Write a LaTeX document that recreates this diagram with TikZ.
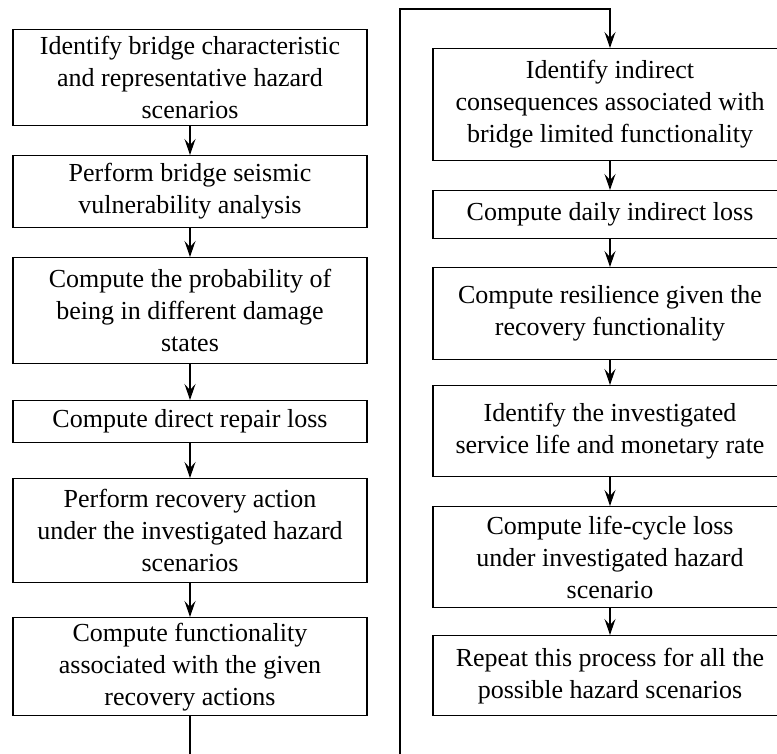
\documentclass[tikz,border=0pt]{standalone}
\usepackage{fontspec}
\setmainfont{Liberation Serif}
\usetikzlibrary{arrows.meta}
\begin{document}
\begin{tikzpicture}[x=1pt,y=-1pt,
  box/.style={draw, line width=1.3pt, minimum width=354pt, inner sep=0pt,
    align=center, anchor=north, font=\fontsize{26}{32}\selectfont},
  flow/.style={line width=1.3pt, -{Stealth[length=16pt,width=11pt,inset=6pt]}},
  link/.style={line width=1.3pt}]
\useasboundingbox (0,0) rectangle (777,754);
\clip (0,0) rectangle (777,754);
% left column
\node[box, minimum height=96pt] (l1) at (190,29) {Identify bridge characteristic\\and representative hazard\\scenarios};
\node[box, minimum height=72pt] (l2) at (190,155) {Perform bridge seismic\\vulnerability analysis};
\node[box, minimum height=106pt] (l3) at (190,257) {Compute the probability of\\being in different damage\\states};
\node[box, minimum height=42pt] (l4) at (190,400) {Compute direct repair loss};
\node[box, minimum height=104pt] (l5) at (190,478) {Perform recovery action\\under the investigated hazard\\scenarios};
\node[box, minimum height=98pt] (l6) at (190,617) {Compute functionality\\associated with the given\\recovery actions};
% right column
\node[box, minimum height=112pt] (r1) at (610,48) {Identify indirect\\consequences associated with\\bridge limited functionality};
\node[box, minimum height=48pt] (r2) at (610,190) {Compute daily indirect loss};
\node[box, minimum height=92pt] (r3) at (610,267) {Compute resilience given the\\recovery functionality};
\node[box, minimum height=91pt] (r4) at (610,385) {Identify the investigated\\service life and monetary rate};
\node[box, minimum height=101pt] (r5) at (610,506) {Compute life-cycle loss\\under investigated hazard\\scenario};
\node[box, minimum height=80pt] (r6) at (610,635) {Repeat this process for all the\\possible hazard scenarios};
% connectors
\draw[flow] (l1) -- (l2);
\draw[flow] (l2) -- (l3);
\draw[flow] (l3) -- (l4);
\draw[flow] (l4) -- (l5);
\draw[flow] (l5) -- (l6);
\draw[flow] (r1) -- (r2);
\draw[flow] (r2) -- (r3);
\draw[flow] (r3) -- (r4);
\draw[flow] (r4) -- (r5);
\draw[flow] (r5) -- (r6);
\coordinate (lb) at (190,754);
\coordinate (rb) at (400,754);
\coordinate (rt) at (400,9);
\draw[link] (l6.south) -- (lb);
\draw[flow] (rb) -- (rt) -| (r1.north);
\end{tikzpicture}
\end{document}
